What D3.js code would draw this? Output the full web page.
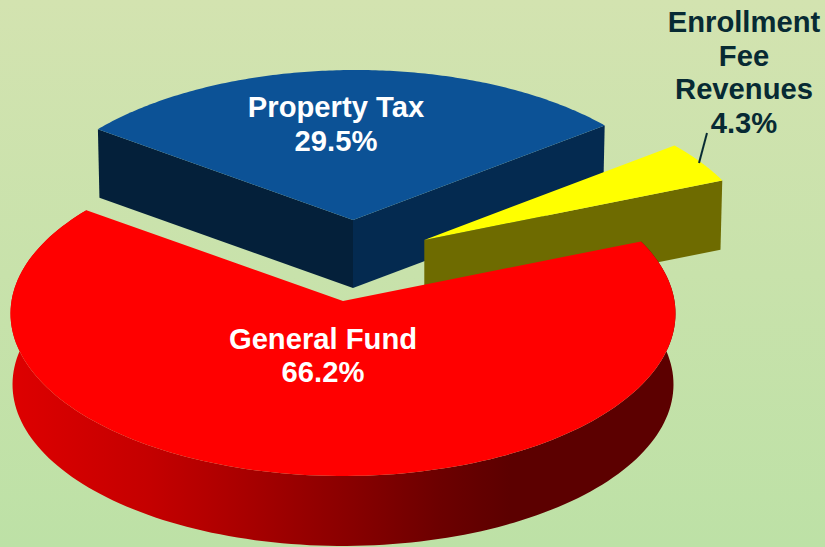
<!DOCTYPE html>
<html><head><meta charset="utf-8">
<script src="https://cdn.jsdelivr.net/npm/d3@7"></script>
<style>html,body{margin:0;padding:0;background:#c8e2ab}svg{display:block}</style>
</head><body><div id="c"></div>
<script>
const categories = ["Property Tax", "Enrollment Fee Revenues", "General Fund"];
const shares = [29.5, 4.3, 66.2];
const labelLines = [["Property Tax","29.5%"],["Enrollment","Fee","Revenues","4.3%"],["General Fund","66.2%"]];
const topColors = ["#0c5296", "#ffff00", "#ff0000"];

const W=825,H=547;
const svg=d3.select("#c").append("svg").attr("width",W).attr("height",H).style("font-family","'Liberation Sans',Arial,sans-serif");
const defs=svg.append("defs");
const bg=defs.append("linearGradient").attr("id","bg").attr("x1",0).attr("y1",0).attr("x2",0).attr("y2",1);
bg.append("stop").attr("offset",0).attr("stop-color","#d3e3b0");
bg.append("stop").attr("offset",1).attr("stop-color","#bde1a6");
svg.append("rect").attr("width",W).attr("height",H).attr("fill","url(#bg)");
const rim=defs.append("linearGradient").attr("id","rim").attr("gradientUnits","userSpaceOnUse").attr("x1",10).attr("x2",676).attr("y1",0).attr("y2",0);
const rimOffset=d3.scaleLinear().domain([10,676]).range([0,1]);
[[10,"#de0000"],[150,"#c40000"],[200,"#b60000"],[345,"#8a0000"],[440,"#6c0000"],[510,"#5c0000"],[676,"#5c0000"]]
  .forEach(s=>rim.append("stop").attr("offset",rimOffset(s[0])).attr("stop-color",s[1]));

const pie=d3.pie().sort(null).startAngle(-54*Math.PI/180).endAngle((360-54)*Math.PI/180);
const arcs=pie(shares);
const D=13, RX=331.5, RY_NEAR=175, SHRINK=0.994;
const depth=[68,69,71];
const apex=[[353,220],[424.3,240],[343,301]];
const lean=[0.008,0,0];
// perspective projection of the unit disc plane
const sx=d3.scaleLinear().domain([-1,1]).range([-RX*D,RX*D]);
const sy=d3.scaleLinear().domain([-1,1]).range([RY_NEAR*(D-1),-RY_NEAR*(D-1)]);
const proj=(a,c,l)=>{const X=Math.sin(a),Y=Math.cos(a),w=D+Y;return [c[0]+sx(X+l*Y)/w,c[1]+sy(Y)/w];};
const arcPts=(s,e,c,l)=>d3.range(0,1.0001,1/160).map(t=>proj(s+(e-s)*t,c,l));
const line=d3.line();
const down=(p,c,h)=>[c[0]+(p[0]-c[0])*SHRINK,c[1]+(p[1]-c[1])*SHRINK+h];
const wallColors=[["#04203a","#042a50"],[null,"#6e6b00"]];

function cutWall(a,c,l,h,fill){const p=proj(a,c,l);return svg.append("path").attr("d",line([c,p,down(p,c,h),down(c,c,h)])+"Z").attr("fill",fill);}
[0,1,2].forEach(i=>{
  const d=arcs[i],c=apex[i],l=lean[i],h=depth[i],pts=arcPts(d.startAngle,d.endAngle,c,l);
  if(i===0){cutWall(d.startAngle,c,l,h,wallColors[0][0]);cutWall(d.endAngle,c,l,h,wallColors[0][1]);}
  if(i===1){cutWall(d.endAngle,c,l,h,wallColors[1][1]);}
  if(i===2){
    svg.append("path").attr("d",line(pts.concat(pts.map(p=>down(p,c,h)).reverse()))+"Z").attr("fill","url(#rim)");
  }
  svg.append("path").attr("d",line([c].concat(pts))+"Z").attr("fill",topColors[i]);
});
svg.append("line").attr("x1",707).attr("y1",133).attr("x2",699).attr("y2",163).attr("stroke","#072a33").attr("stroke-width",2);

const labelPos=[[336,117],[744,32],[323,349]];
const lineStep=[34,33.5,33];
const labelFill=["#fff","#072a33","#fff"];
labelLines.forEach((ls,i)=>{
  svg.append("text").attr("text-anchor","middle").attr("font-weight","bold").attr("font-size",29.2).attr("fill",labelFill[i])
    .selectAll("tspan").data(ls).join("tspan").attr("x",labelPos[i][0]).attr("y",(d,k)=>labelPos[i][1]+k*lineStep[i]).text(d=>d);
});
</script></body></html>
